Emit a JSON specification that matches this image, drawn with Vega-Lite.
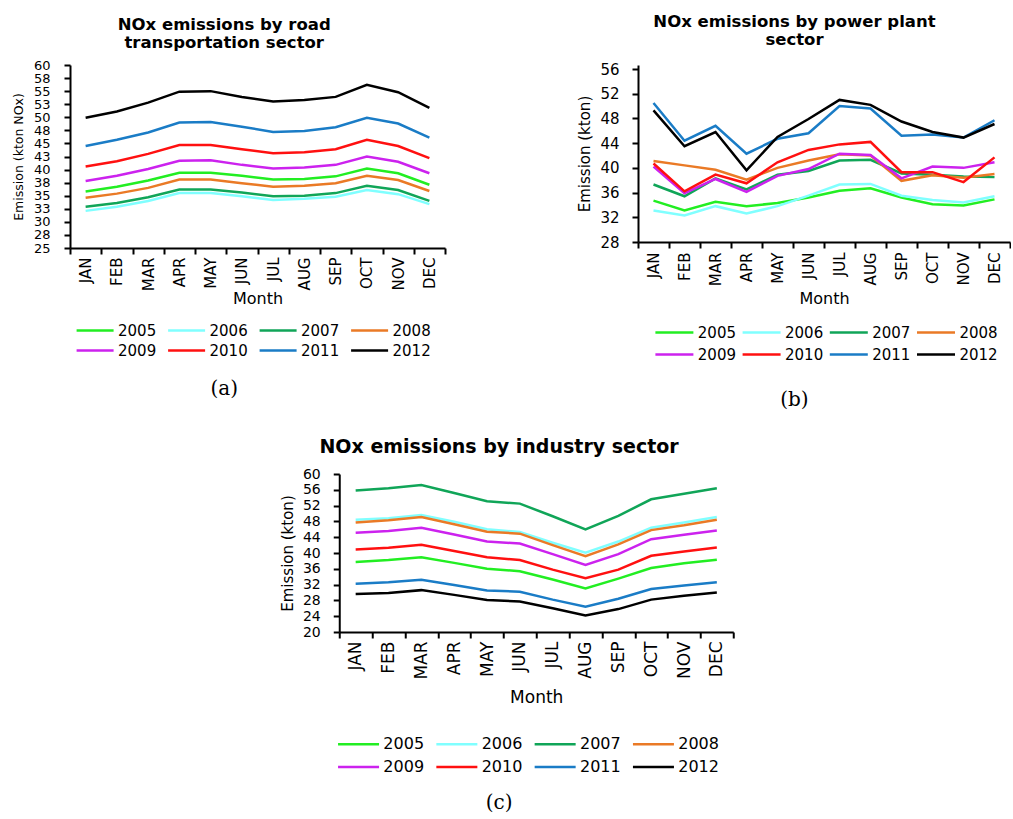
{
"$schema":"https://vega.github.io/schema/vega-lite/v6.json",
"background":"white",
"padding":{"left":12,"top":13,"right":0,"bottom":0},
"datasets":{
"road":[
{"month":"JAN","year":"2005","value":35.8},{"month":"FEB","year":"2005","value":36.7},{"month":"MAR","year":"2005","value":37.9},{"month":"APR","year":"2005","value":39.4},{"month":"MAY","year":"2005","value":39.4},{"month":"JUN","year":"2005","value":38.8},{"month":"JUL","year":"2005","value":38.1},{"month":"AUG","year":"2005","value":38.2},{"month":"SEP","year":"2005","value":38.7},{"month":"OCT","year":"2005","value":40.2},{"month":"NOV","year":"2005","value":39.3},{"month":"DEC","year":"2005","value":37.1},
{"month":"JAN","year":"2006","value":32.1},{"month":"FEB","year":"2006","value":32.9},{"month":"MAR","year":"2006","value":34.0},{"month":"APR","year":"2006","value":35.5},{"month":"MAY","year":"2006","value":35.5},{"month":"JUN","year":"2006","value":34.9},{"month":"JUL","year":"2006","value":34.2},{"month":"AUG","year":"2006","value":34.4},{"month":"SEP","year":"2006","value":34.8},{"month":"OCT","year":"2006","value":36.1},{"month":"NOV","year":"2006","value":35.3},{"month":"DEC","year":"2006","value":33.4},
{"month":"JAN","year":"2007","value":32.9},{"month":"FEB","year":"2007","value":33.6},{"month":"MAR","year":"2007","value":34.7},{"month":"APR","year":"2007","value":36.2},{"month":"MAY","year":"2007","value":36.2},{"month":"JUN","year":"2007","value":35.6},{"month":"JUL","year":"2007","value":34.9},{"month":"AUG","year":"2007","value":35.0},{"month":"SEP","year":"2007","value":35.5},{"month":"OCT","year":"2007","value":36.9},{"month":"NOV","year":"2007","value":36.1},{"month":"DEC","year":"2007","value":34.0},
{"month":"JAN","year":"2008","value":34.6},{"month":"FEB","year":"2008","value":35.4},{"month":"MAR","year":"2008","value":36.5},{"month":"APR","year":"2008","value":38.1},{"month":"MAY","year":"2008","value":38.1},{"month":"JUN","year":"2008","value":37.4},{"month":"JUL","year":"2008","value":36.7},{"month":"AUG","year":"2008","value":36.9},{"month":"SEP","year":"2008","value":37.4},{"month":"OCT","year":"2008","value":38.8},{"month":"NOV","year":"2008","value":38.0},{"month":"DEC","year":"2008","value":35.9},
{"month":"JAN","year":"2009","value":37.8},{"month":"FEB","year":"2009","value":38.8},{"month":"MAR","year":"2009","value":40.1},{"month":"APR","year":"2009","value":41.7},{"month":"MAY","year":"2009","value":41.8},{"month":"JUN","year":"2009","value":40.9},{"month":"JUL","year":"2009","value":40.2},{"month":"AUG","year":"2009","value":40.4},{"month":"SEP","year":"2009","value":40.9},{"month":"OCT","year":"2009","value":42.5},{"month":"NOV","year":"2009","value":41.5},{"month":"DEC","year":"2009","value":39.3},
{"month":"JAN","year":"2010","value":40.6},{"month":"FEB","year":"2010","value":41.6},{"month":"MAR","year":"2010","value":43.0},{"month":"APR","year":"2010","value":44.7},{"month":"MAY","year":"2010","value":44.7},{"month":"JUN","year":"2010","value":43.9},{"month":"JUL","year":"2010","value":43.1},{"month":"AUG","year":"2010","value":43.3},{"month":"SEP","year":"2010","value":43.9},{"month":"OCT","year":"2010","value":45.7},{"month":"NOV","year":"2010","value":44.5},{"month":"DEC","year":"2010","value":42.2},
{"month":"JAN","year":"2011","value":44.5},{"month":"FEB","year":"2011","value":45.7},{"month":"MAR","year":"2011","value":47.1},{"month":"APR","year":"2011","value":49.0},{"month":"MAY","year":"2011","value":49.1},{"month":"JUN","year":"2011","value":48.2},{"month":"JUL","year":"2011","value":47.2},{"month":"AUG","year":"2011","value":47.4},{"month":"SEP","year":"2011","value":48.1},{"month":"OCT","year":"2011","value":49.9},{"month":"NOV","year":"2011","value":48.8},{"month":"DEC","year":"2011","value":46.1},
{"month":"JAN","year":"2012","value":49.9},{"month":"FEB","year":"2012","value":51.1},{"month":"MAR","year":"2012","value":52.8},{"month":"APR","year":"2012","value":54.9},{"month":"MAY","year":"2012","value":55.0},{"month":"JUN","year":"2012","value":53.9},{"month":"JUL","year":"2012","value":53.0},{"month":"AUG","year":"2012","value":53.3},{"month":"SEP","year":"2012","value":53.9},{"month":"OCT","year":"2012","value":56.2},{"month":"NOV","year":"2012","value":54.8},{"month":"DEC","year":"2012","value":51.8}
],
"power":[
{"month":"JAN","year":"2005","value":34.7},{"month":"FEB","year":"2005","value":33.1},{"month":"MAR","year":"2005","value":34.5},{"month":"APR","year":"2005","value":33.8},{"month":"MAY","year":"2005","value":34.3},{"month":"JUN","year":"2005","value":35.2},{"month":"JUL","year":"2005","value":36.3},{"month":"AUG","year":"2005","value":36.7},{"month":"SEP","year":"2005","value":35.2},{"month":"OCT","year":"2005","value":34.1},{"month":"NOV","year":"2005","value":33.9},{"month":"DEC","year":"2005","value":34.9},
{"month":"JAN","year":"2006","value":33.1},{"month":"FEB","year":"2006","value":32.3},{"month":"MAR","year":"2006","value":33.8},{"month":"APR","year":"2006","value":32.6},{"month":"MAY","year":"2006","value":33.8},{"month":"JUN","year":"2006","value":35.5},{"month":"JUL","year":"2006","value":37.3},{"month":"AUG","year":"2006","value":37.4},{"month":"SEP","year":"2006","value":35.5},{"month":"OCT","year":"2006","value":34.8},{"month":"NOV","year":"2006","value":34.4},{"month":"DEC","year":"2006","value":35.4},
{"month":"JAN","year":"2007","value":37.3},{"month":"FEB","year":"2007","value":35.4},{"month":"MAR","year":"2007","value":38.3},{"month":"APR","year":"2007","value":36.5},{"month":"MAY","year":"2007","value":38.9},{"month":"JUN","year":"2007","value":39.5},{"month":"JUL","year":"2007","value":41.2},{"month":"AUG","year":"2007","value":41.3},{"month":"SEP","year":"2007","value":39.1},{"month":"OCT","year":"2007","value":38.9},{"month":"NOV","year":"2007","value":38.6},{"month":"DEC","year":"2007","value":38.5},
{"month":"JAN","year":"2008","value":41.1},{"month":"FEB","year":"2008","value":40.4},{"month":"MAR","year":"2008","value":39.7},{"month":"APR","year":"2008","value":38.1},{"month":"MAY","year":"2008","value":40.0},{"month":"JUN","year":"2008","value":41.2},{"month":"JUL","year":"2008","value":42.2},{"month":"AUG","year":"2008","value":42.0},{"month":"SEP","year":"2008","value":37.9},{"month":"OCT","year":"2008","value":38.8},{"month":"NOV","year":"2008","value":38.4},{"month":"DEC","year":"2008","value":39.0},
{"month":"JAN","year":"2009","value":40.2},{"month":"FEB","year":"2009","value":35.9},{"month":"MAR","year":"2009","value":38.2},{"month":"APR","year":"2009","value":36.1},{"month":"MAY","year":"2009","value":38.7},{"month":"JUN","year":"2009","value":39.8},{"month":"JUL","year":"2009","value":42.3},{"month":"AUG","year":"2009","value":42.1},{"month":"SEP","year":"2009","value":38.3},{"month":"OCT","year":"2009","value":40.2},{"month":"NOV","year":"2009","value":40.0},{"month":"DEC","year":"2009","value":40.9},
{"month":"JAN","year":"2010","value":40.7},{"month":"FEB","year":"2010","value":36.2},{"month":"MAR","year":"2010","value":38.9},{"month":"APR","year":"2010","value":37.5},{"month":"MAY","year":"2010","value":40.9},{"month":"JUN","year":"2010","value":42.9},{"month":"JUL","year":"2010","value":43.8},{"month":"AUG","year":"2010","value":44.2},{"month":"SEP","year":"2010","value":39.3},{"month":"OCT","year":"2010","value":39.3},{"month":"NOV","year":"2010","value":37.7},{"month":"DEC","year":"2010","value":41.7},
{"month":"JAN","year":"2011","value":50.5},{"month":"FEB","year":"2011","value":44.4},{"month":"MAR","year":"2011","value":46.8},{"month":"APR","year":"2011","value":42.3},{"month":"MAY","year":"2011","value":44.7},{"month":"JUN","year":"2011","value":45.6},{"month":"JUL","year":"2011","value":50.0},{"month":"AUG","year":"2011","value":49.6},{"month":"SEP","year":"2011","value":45.2},{"month":"OCT","year":"2011","value":45.4},{"month":"NOV","year":"2011","value":44.9},{"month":"DEC","year":"2011","value":47.7},
{"month":"JAN","year":"2012","value":49.3},{"month":"FEB","year":"2012","value":43.5},{"month":"MAR","year":"2012","value":45.8},{"month":"APR","year":"2012","value":39.6},{"month":"MAY","year":"2012","value":45.0},{"month":"JUN","year":"2012","value":47.9},{"month":"JUL","year":"2012","value":51.0},{"month":"AUG","year":"2012","value":50.2},{"month":"SEP","year":"2012","value":47.5},{"month":"OCT","year":"2012","value":45.8},{"month":"NOV","year":"2012","value":44.9},{"month":"DEC","year":"2012","value":47.1}
],
"industry":[
{"month":"JAN","year":"2005","value":37.7},{"month":"FEB","year":"2005","value":38.2},{"month":"MAR","year":"2005","value":38.9},{"month":"APR","year":"2005","value":37.5},{"month":"MAY","year":"2005","value":36.0},{"month":"JUN","year":"2005","value":35.4},{"month":"JUL","year":"2005","value":33.3},{"month":"AUG","year":"2005","value":31.0},{"month":"SEP","year":"2005","value":33.5},{"month":"OCT","year":"2005","value":36.2},{"month":"NOV","year":"2005","value":37.4},{"month":"DEC","year":"2005","value":38.3},
{"month":"JAN","year":"2006","value":48.4},{"month":"FEB","year":"2006","value":48.8},{"month":"MAR","year":"2006","value":49.6},{"month":"APR","year":"2006","value":47.9},{"month":"MAY","year":"2006","value":46.0},{"month":"JUN","year":"2006","value":45.3},{"month":"JUL","year":"2006","value":42.6},{"month":"AUG","year":"2006","value":40.1},{"month":"SEP","year":"2006","value":42.9},{"month":"OCT","year":"2006","value":46.4},{"month":"NOV","year":"2006","value":47.7},{"month":"DEC","year":"2006","value":49.1},
{"month":"JAN","year":"2007","value":55.8},{"month":"FEB","year":"2007","value":56.4},{"month":"MAR","year":"2007","value":57.2},{"month":"APR","year":"2007","value":55.2},{"month":"MAY","year":"2007","value":53.1},{"month":"JUN","year":"2007","value":52.5},{"month":"JUL","year":"2007","value":49.3},{"month":"AUG","year":"2007","value":46.0},{"month":"SEP","year":"2007","value":49.4},{"month":"OCT","year":"2007","value":53.6},{"month":"NOV","year":"2007","value":55.0},{"month":"DEC","year":"2007","value":56.4},
{"month":"JAN","year":"2008","value":47.7},{"month":"FEB","year":"2008","value":48.3},{"month":"MAR","year":"2008","value":49.1},{"month":"APR","year":"2008","value":47.3},{"month":"MAY","year":"2008","value":45.4},{"month":"JUN","year":"2008","value":44.9},{"month":"JUL","year":"2008","value":42.0},{"month":"AUG","year":"2008","value":39.2},{"month":"SEP","year":"2008","value":42.2},{"month":"OCT","year":"2008","value":45.8},{"month":"NOV","year":"2008","value":47.0},{"month":"DEC","year":"2008","value":48.4},
{"month":"JAN","year":"2009","value":45.1},{"month":"FEB","year":"2009","value":45.6},{"month":"MAR","year":"2009","value":46.4},{"month":"APR","year":"2009","value":44.7},{"month":"MAY","year":"2009","value":42.9},{"month":"JUN","year":"2009","value":42.4},{"month":"JUL","year":"2009","value":39.7},{"month":"AUG","year":"2009","value":37.0},{"month":"SEP","year":"2009","value":39.7},{"month":"OCT","year":"2009","value":43.5},{"month":"NOV","year":"2009","value":44.6},{"month":"DEC","year":"2009","value":45.7},
{"month":"JAN","year":"2010","value":40.9},{"month":"FEB","year":"2010","value":41.3},{"month":"MAR","year":"2010","value":42.1},{"month":"APR","year":"2010","value":40.5},{"month":"MAY","year":"2010","value":38.9},{"month":"JUN","year":"2010","value":38.2},{"month":"JUL","year":"2010","value":35.8},{"month":"AUG","year":"2010","value":33.6},{"month":"SEP","year":"2010","value":35.8},{"month":"OCT","year":"2010","value":39.3},{"month":"NOV","year":"2010","value":40.4},{"month":"DEC","year":"2010","value":41.4},
{"month":"JAN","year":"2011","value":32.2},{"month":"FEB","year":"2011","value":32.6},{"month":"MAR","year":"2011","value":33.2},{"month":"APR","year":"2011","value":31.9},{"month":"MAY","year":"2011","value":30.5},{"month":"JUN","year":"2011","value":30.2},{"month":"JUL","year":"2011","value":28.2},{"month":"AUG","year":"2011","value":26.4},{"month":"SEP","year":"2011","value":28.4},{"month":"OCT","year":"2011","value":30.9},{"month":"NOV","year":"2011","value":31.8},{"month":"DEC","year":"2011","value":32.6},
{"month":"JAN","year":"2012","value":29.6},{"month":"FEB","year":"2012","value":29.9},{"month":"MAR","year":"2012","value":30.6},{"month":"APR","year":"2012","value":29.4},{"month":"MAY","year":"2012","value":28.1},{"month":"JUN","year":"2012","value":27.7},{"month":"JUL","year":"2012","value":26.0},{"month":"AUG","year":"2012","value":24.2},{"month":"SEP","year":"2012","value":25.8},{"month":"OCT","year":"2012","value":28.2},{"month":"NOV","year":"2012","value":29.2},{"month":"DEC","year":"2012","value":30.0}
]
},
"vconcat":[
{"hconcat":[
 {"vconcat":[
  {"width":375,"height":183,
   "data":{"name":"road"},
   "title":{"text":["NOx emissions by road","transportation sector"],"fontSize":16.5,"lineHeight":18,"offset":8,"dx":-5},
   "mark":{"type":"line","strokeWidth":2.5},
   "encoding":{
    "x":{"field":"month","type":"ordinal","sort":["JAN","FEB","MAR","APR","MAY","JUN","JUL","AUG","SEP","OCT","NOV","DEC"],"scale":{"type":"band","paddingInner":0,"paddingOuter":0},
      "axis":{"title":"Month","labelAngle":-90,"tickBand":"extent","labelPadding":3,"titlePadding":0,"labelFontSize":15,"titleFontSize":16}},
    "y":{"field":"value","type":"quantitative","scale":{"domain":[25,60],"nice":false,"zero":false},
      "axis":{"title":"Emission (kton NOx)","values":[25,27.5,30,32.5,35,37.5,40,42.5,45,47.5,50,52.5,55,57.5,60],"format":"d","labelOverlap":false,"labelPadding":14,"titlePadding":8,"labelFontSize":13,"titleFontSize":12.5}},
    "color":{"field":"year","type":"nominal","scale":{"domain":["2005","2006","2007","2008","2009","2010","2011","2012"],"range":["#22ee22","#80ffff","#10a558","#ea7a26","#cc22ee","#ff1010","#1a7cc6","#000000"]},
      "legend":{"orient":"none","legendX":5,"legendY":256.5,"direction":"horizontal","columns":4,"title":null,"symbolType":"M-1,0H4","symbolSize":219,"labelOffset":25,"labelFontSize":15,"columnPadding":5.5,"rowPadding":3}}
   }}
 ],
 "resolve":{"scale":{"color":"independent","x":"independent","y":"independent"},"legend":{"color":"independent"}},
 "title":{"text":"(a)","orient":"bottom","offset":20,"dx":-5,"font":"DejaVu Serif","fontSize":20,"fontWeight":"normal","color":"black","anchor":"middle"}},
 {"vconcat":[
  {"width":372,"height":177,
   "data":{"name":"power"},
   "title":{"text":["NOx emissions by power plant","sector"],"fontSize":16.5,"lineHeight":18,"offset":14},
   "mark":{"type":"line","strokeWidth":2.5},
   "encoding":{
    "x":{"field":"month","type":"ordinal","sort":["JAN","FEB","MAR","APR","MAY","JUN","JUL","AUG","SEP","OCT","NOV","DEC"],"scale":{"type":"band","paddingInner":0,"paddingOuter":0},
      "axis":{"title":"Month","labelAngle":-90,"tickBand":"extent","labelPadding":4,"titlePadding":5,"labelFontSize":15,"titleFontSize":16}},
    "y":{"field":"value","type":"quantitative","scale":{"domain":[28,56.6474],"nice":false,"zero":false},
      "axis":{"title":"Emission (kton)","values":[28,32,36,40,44,48,52,56],"format":"d","labelOverlap":false,"labelPadding":13,"titlePadding":7,"labelFontSize":15,"titleFontSize":15}},
    "color":{"field":"year","type":"nominal","scale":{"domain":["2005","2006","2007","2008","2009","2010","2011","2012"],"range":["#22ee22","#80ffff","#10a558","#ea7a26","#cc22ee","#ff1010","#1a7cc6","#000000"]},
      "legend":{"orient":"none","legendX":16,"legendY":258.5,"direction":"horizontal","columns":4,"title":null,"symbolType":"M-1,0H4","symbolSize":231,"labelOffset":25.8,"labelFontSize":15,"columnPadding":1.2,"rowPadding":5}}
   }}
 ],
 "resolve":{"scale":{"color":"independent","x":"independent","y":"independent"},"legend":{"color":"independent"}},
 "title":{"text":"(b)","orient":"bottom","offset":27,"font":"DejaVu Serif","fontSize":20,"fontWeight":"normal","color":"black","anchor":"middle"}}
],
"spacing":131,
"resolve":{"scale":{"color":"independent","x":"independent","y":"independent"},"legend":{"color":"independent"}}},
{"vconcat":[
  {"width":394,"height":158,
   "data":{"name":"industry"},
   "title":{"text":"NOx emissions by industry sector","fontSize":19,"offset":10,"dx":-12},
   "mark":{"type":"line","strokeWidth":2.5},
   "encoding":{
    "x":{"field":"month","type":"ordinal","sort":["JAN","FEB","MAR","APR","MAY","JUN","JUL","AUG","SEP","OCT","NOV","DEC"],"scale":{"type":"band","paddingInner":0,"paddingOuter":0},
      "axis":{"title":"Month","labelAngle":-90,"tickBand":"extent","labelPadding":3,"titlePadding":10,"labelFontSize":17,"titleFontSize":17}},
    "y":{"field":"value","type":"quantitative","scale":{"domain":[20,60],"nice":false,"zero":false},
      "axis":{"title":"Emission (kton)","values":[20,24,28,32,36,40,44,48,52,56,60],"format":"d","labelOverlap":false,"labelPadding":13,"titlePadding":7,"labelFontSize":14,"titleFontSize":15}},
    "color":{"field":"year","type":"nominal","scale":{"domain":["2005","2006","2007","2008","2009","2010","2011","2012"],"range":["#22ee22","#80ffff","#10a558","#ea7a26","#cc22ee","#ff1010","#1a7cc6","#000000"]},
      "legend":{"orient":"none","legendX":-24.5,"legendY":238.5,"padding":22,"direction":"horizontal","columns":4,"title":null,"symbolType":"M-1,0H4","symbolSize":269,"labelOffset":27.6,"labelFontSize":16,"columnPadding":6.3,"rowPadding":5}}
   }}
 ],
 "resolve":{"scale":{"color":"independent","x":"independent","y":"independent"},"legend":{"color":"independent"}},
 "title":{"text":"(c)","orient":"bottom","offset":-5,"dx":-12,"font":"DejaVu Serif","fontSize":20,"fontWeight":"normal","color":"black","anchor":"middle"}}
],
"spacing":28,
"center":true,
"resolve":{"scale":{"color":"independent","x":"independent","y":"independent"},"legend":{"color":"independent"}},
"config":{
 "view":{"stroke":null},
 "font":"DejaVu Sans",
 "title":{"font":"DejaVu Sans","fontWeight":"bold","color":"black","anchor":"middle","frame":"bounds"},
 "axis":{"domainColor":"black","domainWidth":2,"tickColor":"black","tickWidth":2,"tickSize":6,"labelColor":"black","titleColor":"black","titleFontWeight":"normal","grid":false,"labelFont":"DejaVu Sans","titleFont":"DejaVu Sans"},
 "legend":{"labelColor":"black","labelFont":"DejaVu Sans","symbolStrokeWidth":2.5,"padding":0}
}
}
